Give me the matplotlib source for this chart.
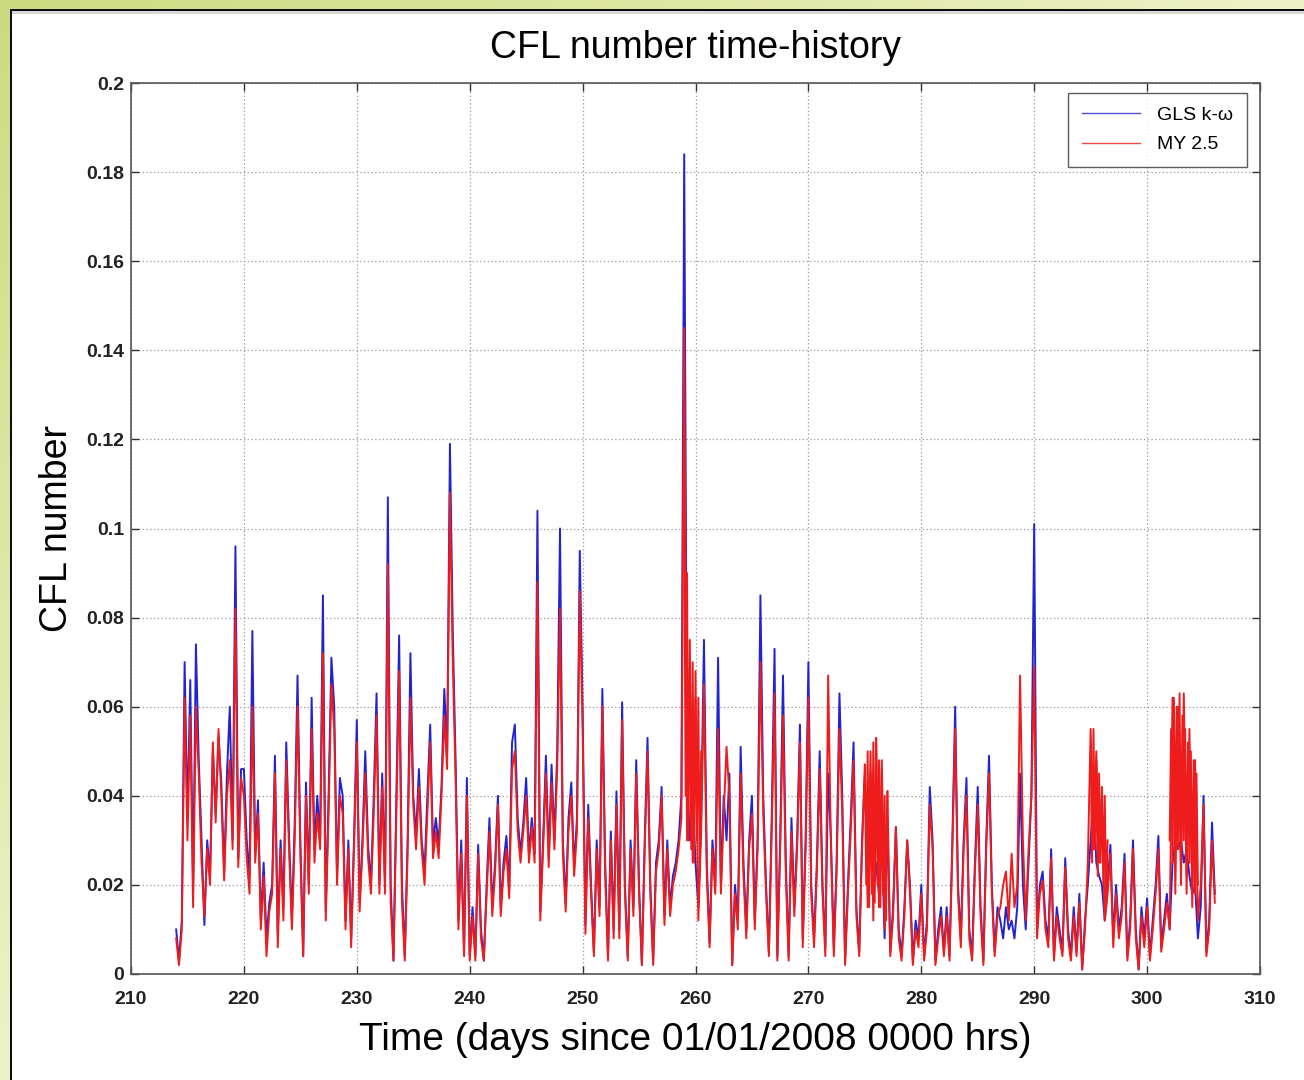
import numpy as np
import matplotlib
matplotlib.use("Agg")
import matplotlib.pyplot as plt

# ---------------- data (CFL values sampled every quarter day) ----------------
t_start, t_end, t_step = 214.0, 306.0, 0.25

gls_kw = [
    0.010, 0.003, 0.012, 0.070,  0.035, 0.066, 0.019, 0.074,   # 214-215
    0.048, 0.030, 0.011, 0.030,  0.022, 0.050, 0.036, 0.053,   # 216-217
    0.043, 0.023, 0.045, 0.060,  0.030, 0.096, 0.026, 0.046,   # 218-219
    0.046, 0.030, 0.022, 0.077,  0.027, 0.039, 0.012, 0.025,   # 220-221
    0.008, 0.016, 0.020, 0.049,  0.009, 0.030, 0.015, 0.052,   # 222-223
    0.031, 0.012, 0.034, 0.067,  0.030, 0.004, 0.043, 0.020,   # 224-225
    0.062, 0.028, 0.040, 0.030,  0.085, 0.014, 0.040, 0.071,   # 226-227
    0.060, 0.022, 0.044, 0.040,  0.012, 0.030, 0.008, 0.030,   # 228-229
    0.057, 0.016, 0.030, 0.050,  0.029, 0.020, 0.040, 0.063,   # 230-231
    0.020, 0.045, 0.020, 0.107,  0.020, 0.003, 0.040, 0.076,   # 232-233
    0.020, 0.004, 0.030, 0.072,  0.040, 0.031, 0.046, 0.030,   # 234-235
    0.023, 0.040, 0.056, 0.029,  0.035, 0.029, 0.042, 0.064,   # 236-237
    0.050, 0.119, 0.077, 0.048,  0.012, 0.030, 0.005, 0.044,   # 238-239
    0.004, 0.015, 0.004, 0.029,  0.010, 0.003, 0.020, 0.035,   # 240-241
    0.015, 0.025, 0.040, 0.015,  0.025, 0.031, 0.019, 0.052,   # 242-243
    0.056, 0.035, 0.027, 0.034,  0.044, 0.027, 0.035, 0.027,   # 244-245
    0.104, 0.014, 0.030, 0.049,  0.026, 0.047, 0.030, 0.050,   # 246-247
    0.100, 0.030, 0.016, 0.035,  0.043, 0.024, 0.035, 0.095,   # 248-249
    0.060, 0.011, 0.038, 0.020,  0.005, 0.030, 0.015, 0.064,   # 250-251
    0.025, 0.004, 0.032, 0.010,  0.041, 0.010, 0.061, 0.020,   # 252-253
    0.004, 0.030, 0.015, 0.048,  0.020, 0.002, 0.030, 0.053,   # 254-255
    0.020, 0.003, 0.025, 0.030,  0.042, 0.013, 0.030, 0.015,   # 256-257
    0.022, 0.025, 0.030, 0.040,  0.184, 0.045, 0.030, 0.040,   # 258-259
    0.025, 0.015, 0.035, 0.075,  0.025, 0.007, 0.030, 0.020,   # 260-261
    0.071, 0.020, 0.040, 0.030,  0.045, 0.002, 0.020, 0.012,   # 262-263
    0.051, 0.025, 0.010, 0.030,  0.040, 0.012, 0.030, 0.085,   # 264-265
    0.040, 0.020, 0.005, 0.035,  0.073, 0.004, 0.030, 0.067,   # 266-267
    0.025, 0.004, 0.035, 0.015,  0.030, 0.056, 0.008, 0.030,   # 268-269
    0.070, 0.020, 0.008, 0.025,  0.050, 0.020, 0.006, 0.045,   # 270-271
    0.030, 0.006, 0.025, 0.063,  0.040, 0.003, 0.020, 0.035,   # 272-273
    0.052, 0.015, 0.005, 0.030,  0.045, 0.020, 0.030, 0.018,   # 274-275
    0.025, 0.018, 0.030, 0.008,  0.035, 0.005, 0.015, 0.033,   # 276-277
    0.010, 0.004, 0.015, 0.030,  0.020, 0.003, 0.012, 0.008,   # 278-279
    0.020, 0.004, 0.012, 0.042,  0.030, 0.003, 0.010, 0.015,   # 280-281
    0.005, 0.015, 0.004, 0.030,  0.060, 0.020, 0.008, 0.030,   # 282-283
    0.044, 0.010, 0.004, 0.025,  0.042, 0.015, 0.003, 0.030,   # 284-285
    0.049, 0.020, 0.005, 0.015,  0.012, 0.008, 0.015, 0.010,   # 286-287
    0.012, 0.008, 0.015, 0.045,  0.020, 0.010, 0.025, 0.040,   # 288-289
    0.101, 0.010, 0.020, 0.023,  0.012, 0.008, 0.028, 0.004,   # 290-291
    0.015, 0.010, 0.005, 0.026,  0.010, 0.004, 0.015, 0.005,   # 292-293
    0.018, 0.001, 0.012, 0.020,  0.030, 0.040, 0.025, 0.022,   # 294-295
    0.020, 0.012, 0.020, 0.029,  0.008, 0.020, 0.010, 0.015,   # 296-297
    0.027, 0.004, 0.012, 0.030,  0.010, 0.001, 0.015, 0.008,   # 298-299
    0.017, 0.004, 0.012, 0.020,  0.031, 0.006, 0.012, 0.018,   # 300-301
    0.010, 0.025, 0.030, 0.028,  0.030, 0.025, 0.028, 0.022,   # 302-303
    0.018, 0.020, 0.008, 0.015,  0.040, 0.005, 0.012, 0.034,   # 304-305
    0.018,                                                     # 306
]

my25 = [
    0.008, 0.002, 0.010, 0.062,  0.030, 0.058, 0.015, 0.060,   # 214-215
    0.045, 0.025, 0.013, 0.028,  0.020, 0.052, 0.034, 0.055,   # 216-217
    0.040, 0.021, 0.040, 0.048,  0.028, 0.082, 0.024, 0.044,   # 218-219
    0.040, 0.026, 0.018, 0.060,  0.025, 0.036, 0.010, 0.022,   # 220-221
    0.004, 0.014, 0.018, 0.045,  0.006, 0.028, 0.012, 0.048,   # 222-223
    0.028, 0.010, 0.030, 0.060,  0.027, 0.004, 0.040, 0.018,   # 224-225
    0.055, 0.025, 0.036, 0.028,  0.072, 0.012, 0.036, 0.065,   # 226-227
    0.055, 0.020, 0.040, 0.036,  0.010, 0.028, 0.006, 0.028,   # 228-229
    0.052, 0.014, 0.028, 0.045,  0.026, 0.018, 0.036, 0.058,   # 230-231
    0.018, 0.042, 0.018, 0.092,  0.016, 0.003, 0.036, 0.068,   # 232-233
    0.016, 0.003, 0.027, 0.062,  0.038, 0.028, 0.042, 0.028,   # 234-235
    0.020, 0.036, 0.052, 0.026,  0.032, 0.026, 0.040, 0.058,   # 236-237
    0.046, 0.108, 0.070, 0.044,  0.010, 0.027, 0.004, 0.040,   # 238-239
    0.003, 0.013, 0.003, 0.027,  0.008, 0.003, 0.018, 0.032,   # 240-241
    0.013, 0.023, 0.038, 0.013,  0.023, 0.028, 0.017, 0.046,   # 242-243
    0.050, 0.032, 0.025, 0.032,  0.040, 0.025, 0.033, 0.025,   # 244-245
    0.088, 0.012, 0.028, 0.045,  0.024, 0.043, 0.028, 0.046,   # 246-247
    0.082, 0.027, 0.014, 0.032,  0.040, 0.022, 0.032, 0.086,   # 248-249
    0.055, 0.009, 0.035, 0.018,  0.004, 0.028, 0.013, 0.060,   # 250-251
    0.022, 0.003, 0.030, 0.008,  0.038, 0.008, 0.057, 0.018,   # 252-253
    0.003, 0.028, 0.013, 0.045,  0.018, 0.002, 0.028, 0.050,   # 254-255
    0.018, 0.002, 0.023, 0.028,  0.040, 0.011, 0.028, 0.013,   # 256-257
    0.020, 0.023, 0.028, 0.035,  0.145, 0.030, 0.068, 0.025,   # 258-259
    0.062, 0.012, 0.032, 0.065,  0.022, 0.006, 0.028, 0.018,   # 260-261
    0.055, 0.018, 0.036, 0.051,  0.040, 0.002, 0.018, 0.010,   # 262-263
    0.045, 0.022, 0.008, 0.028,  0.036, 0.010, 0.028, 0.070,   # 264-265
    0.036, 0.018, 0.004, 0.032,  0.063, 0.003, 0.028, 0.058,   # 266-267
    0.022, 0.003, 0.032, 0.013,  0.028, 0.052, 0.006, 0.028,   # 268-269
    0.062, 0.018, 0.006, 0.023,  0.046, 0.018, 0.004, 0.067,   # 270-271
    0.028, 0.004, 0.023, 0.055,  0.036, 0.002, 0.018, 0.032,   # 272-273
    0.048, 0.013, 0.004, 0.028,  0.047, 0.015, 0.050, 0.012,   # 274-275
    0.053, 0.015, 0.048, 0.010,  0.041, 0.004, 0.013, 0.033,   # 276-277
    0.008, 0.003, 0.013, 0.030,  0.018, 0.002, 0.010, 0.006,   # 278-279
    0.018, 0.003, 0.010, 0.038,  0.028, 0.002, 0.008, 0.013,   # 280-281
    0.004, 0.013, 0.003, 0.028,  0.055, 0.018, 0.006, 0.028,   # 282-283
    0.040, 0.008, 0.003, 0.023,  0.038, 0.013, 0.002, 0.028,   # 284-285
    0.045, 0.018, 0.004, 0.013,  0.015, 0.020, 0.023, 0.012,   # 286-287
    0.027, 0.015, 0.020, 0.067,  0.030, 0.012, 0.028, 0.040,   # 288-289
    0.069, 0.008, 0.018, 0.021,  0.010, 0.006, 0.026, 0.003,   # 290-291
    0.013, 0.008, 0.004, 0.024,  0.008, 0.003, 0.013, 0.004,   # 292-293
    0.016, 0.001, 0.010, 0.025,  0.055, 0.028, 0.050, 0.025,   # 294-295
    0.040, 0.012, 0.018, 0.027,  0.006, 0.018, 0.008, 0.013,   # 296-297
    0.025, 0.003, 0.010, 0.028,  0.008, 0.001, 0.013, 0.006,   # 298-299
    0.015, 0.003, 0.010, 0.018,  0.028, 0.005, 0.010, 0.016,   # 300-301
    0.010, 0.062, 0.018, 0.060,  0.020, 0.063, 0.018, 0.055,   # 302-303
    0.015, 0.048, 0.012, 0.020,  0.038, 0.004, 0.010, 0.030,   # 304-305
    0.016,                                                     # 306
]

# high-frequency bursts of MY 2.5 (eighth-day samples) where the red trace is solid
burst_step = 0.125
my25_burst_259_start = 259.0
my25_burst_259 = [0.105, 0.040, 0.090, 0.030, 0.075, 0.028, 0.070, 0.025,
                  0.068, 0.030, 0.062, 0.022, 0.050]
my25_burst_275_start = 275.0
my25_burst_275 = [0.047, 0.020, 0.050, 0.015, 0.045, 0.018, 0.052, 0.016, 0.053,
                  0.020, 0.048, 0.015, 0.046, 0.018, 0.040, 0.012, 0.041]
my25_burst_295_start = 295.0
my25_burst_295 = [0.050, 0.025, 0.055, 0.028, 0.048, 0.022, 0.045, 0.025,
                  0.042, 0.020, 0.040, 0.015, 0.030]
my25_burst_302_start = 302.0
my25_burst_302 = [0.030, 0.055, 0.025, 0.062, 0.030, 0.060, 0.028, 0.063, 0.025,
                  0.058, 0.030, 0.055, 0.022, 0.052, 0.025, 0.050, 0.020, 0.048,
                  0.018, 0.045, 0.020]

series_labels = ["GLS k-\u03c9", "MY 2.5"]
x_ticks = [210, 220, 230, 240, 250, 260, 270, 280, 290, 300, 310]
y_ticks = [0, 0.02, 0.04, 0.06, 0.08, 0.1, 0.12, 0.14, 0.16, 0.18, 0.2]
y_tick_labels = ["0", "0.02", "0.04", "0.06", "0.08", "0.1", "0.12",
                 "0.14", "0.16", "0.18", "0.2"]

time = np.arange(t_start, t_end + t_step / 2, t_step)
assert len(time) == len(gls_kw) == len(my25)

# ---------------- figure ----------------
plt.rcParams['font.family'] = ['Liberation Sans', 'DejaVu Sans']
W, H = 1304, 1080
fig = plt.figure(figsize=(W / 100, H / 100), dpi=100)
fig.patch.set_facecolor("white")

# decorative slide frame (green gradient at top/left + black border)
bg = fig.add_axes([0, 0, 1, 1], zorder=-10)
img = np.ones((H, W, 3))
g_top = np.array([0.80, 0.86, 0.50])
g_low = np.array([0.93, 0.95, 0.78])
for r in range(H):
    f = r / H
    img[r, :11] = g_top * (1 - f) + g_low * f
for c in range(W):
    f = c / W
    img[:9, c] = g_top * (1 - f) + g_low * f
img[9:11, 11:] = 0.05
img[9:, 10:12] = 0.05
img[11:14, 12:] = np.minimum(img[11:14, 12:], 0.85)
bg.imshow(img, aspect="auto", interpolation="nearest")
bg.axis("off")

ax = fig.add_axes([131 / W, 1 - 974 / H, (1260 - 131) / W, (974 - 83) / H])
blue, red = "#2323d2", "#ee1c1c"
ax.plot(time, gls_kw, color=blue, lw=1.4, label=series_labels[0])
ax.plot(time, my25, color=red, lw=1.4, label=series_labels[1])
for start, vals in [(my25_burst_259_start, my25_burst_259),
                    (my25_burst_275_start, my25_burst_275),
                    (my25_burst_295_start, my25_burst_295),
                    (my25_burst_302_start, my25_burst_302)]:
    tb = start + burst_step * np.arange(len(vals))
    ax.plot(tb, vals, color=red, lw=1.4)

ax.set_xlim(210, 310)
ax.set_ylim(0, 0.2)
ax.set_xticks(x_ticks)
ax.set_xticklabels([str(v) for v in x_ticks])
ax.set_yticks(y_ticks)
ax.set_yticklabels(y_tick_labels)
ax.tick_params(direction="in", length=6, width=1, top=True, right=True,
               labelsize=14, colors="#333333")
ax.tick_params(axis="x", pad=12)
ax.tick_params(axis="y", pad=5)
for lab in ax.get_xticklabels() + ax.get_yticklabels():
    lab.set_fontweight("bold")
    lab.set_color("#222222")
ax.grid(True, linestyle=(0, (1, 2)), color="#9a9a9a", lw=0.9)
for s in ax.spines.values():
    s.set_color("#555555")
    s.set_linewidth(1.2)

ax.set_title("CFL number time-history", fontsize=27, pad=18)
ax.set_xlabel("Time (days since 01/01/2008 0000 hrs)", fontsize=28, labelpad=10)
ax.set_ylabel("CFL number", fontsize=27, labelpad=8)

leg = ax.legend(loc="upper right", bbox_to_anchor=(0.9885, 0.9888),
                borderaxespad=0.0,
                fontsize=14, frameon=True, fancybox=False, handlelength=3.0,
                borderpad=0.7, labelspacing=0.6, handletextpad=0.9)
leg.get_frame().set_edgecolor("#333333")
leg.get_frame().set_linewidth(1.0)
for line in leg.get_lines():
    line.set_linewidth(1.0)
    line.set_alpha(0.8)

fig.savefig("out.png", dpi=100)
